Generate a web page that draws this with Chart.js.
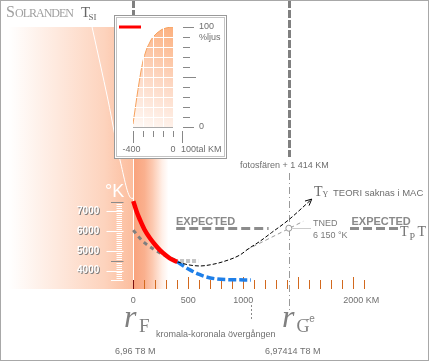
<!DOCTYPE html>
<html><head><meta charset="utf-8">
<script src="https://cdn.jsdelivr.net/npm/chart.js@4/dist/chart.umd.min.js"></script>
<style>
html,body{margin:0;padding:0;background:#fff;}
#wrap{position:relative;width:429px;height:361px;overflow:hidden;}
#main{position:absolute;left:0;top:0;}
#inset{position:absolute;left:114px;top:15px;}
</style></head><body>
<div id="wrap"><canvas id="main" width="429" height="361"></canvas><canvas id="inset" width="113" height="144"></canvas></div>
<script>
// ---- data (km above photosphere, temperature K) ----
const redKm   = [0, 30, 61, 100, 152, 200, 242, 290, 333, 370, 400];
const redK    = [7530, 7000, 6570, 6100, 5640, 5300, 5040, 4800, 4620, 4510, 4440];
const greyKm  = [0, 50, 100, 200, 300, 400];
const greyK   = [6050, 5700, 5420, 5030, 4730, 4490];
const dotKm   = [425, 590];
const dotK    = [4480, 4480];
const blackKm = [400, 500, 606, 700, 818, 970, 1045, 1150, 1258, 1409, 1622];
const blackK  = [4440, 4290, 4230, 4290, 4450, 4790, 5100, 5480, 5930, 6560, 7630];
const blueKm  = [400, 450, 515, 600, 652, 758, 900, 1070];
const blueK   = [4440, 4250, 4030, 3800, 3690, 3570, 3530, 3520];
const siKm    = [-375, -230, -121, -15, 0];
const siK     = [16380, 12670, 9620, 7670, 7670];
const guideKm = [1030, 1545];
const guideK  = [5050, 6500];
const tnedKm = 1414, tnedK = 6150;
const expLeftKm = [390, 1230];
const expRightKm = [1970, 2420];
const transitionKm = 1070;
const xTickVals = [0, 500, 1000, 2000];
const xTickLabels = ['0', '500', '1000', '2000 KM'];
const yTickVals = [7000, 6000, 5000, 4000];
const yTickLabels = ['7000', '6000', '5000', '4000'];
// inset: light fraction vs position (100-tal km)
const lightX   = [-400,-380,-360,-340,-320,-300,-280,-260,-240,-220,-200,-180,-160,-140,-120,-100,-80,-60,-40,-20,0];
const lightPct = [3,17,31,44,56,66,73,79,83,87,90,92,94,95.5,97,98,98.7,99.2,99.6,99.9,100];

// ---- layout (pixel mapping) ----
const X0 = 133.3, XS = 0.11;     // px of 0 km, px per km
const Y4 = 270.5, YS = 0.019667; // px of 4000 K, px per K
const W = 429, H = 361;

const pts = (xs, ys) => xs.map((x, i) => ({x, y: ys[i]}));
const SANS = '"Liberation Sans", Arial, sans-serif';
const SERIF = '"Liberation Serif", "Times New Roman", serif';

function txt(ctx, s, x, y, font, color, align, base) {
  ctx.save(); ctx.font = font; ctx.fillStyle = color;
  ctx.textAlign = align || 'left'; ctx.textBaseline = base || 'middle';
  ctx.fillText(s, x, y); ctx.restore();
}
function line(ctx, x1, y1, x2, y2, color, w, dash) {
  ctx.save(); ctx.strokeStyle = color; ctx.lineWidth = w || 1;
  ctx.setLineDash(dash || []); ctx.beginPath(); ctx.moveTo(x1, y1); ctx.lineTo(x2, y2); ctx.stroke(); ctx.restore();
}

const bgPlugin = {
  id: 'bg',
  beforeDatasetsDraw(chart) {
    const ctx = chart.ctx, xa = chart.scales.x, ya = chart.scales.y;
    const cx = Math.round(xa.getPixelForValue(0)) + 0.5;
    // gradient band
    const L = cx - 125, R = cx + 35;
    const g = ctx.createLinearGradient(L, 0, R, 0);
    g.addColorStop(0, '#ffffff');
    g.addColorStop(0.3, '#fee9de');
    g.addColorStop(0.6, '#fdd3bd');
    g.addColorStop(0.78, '#fcbd9d');
    g.addColorStop(0.785, '#f9a37d');
    g.addColorStop(0.85, '#fab08e');
    g.addColorStop(0.9, '#fcc9b0');
    g.addColorStop(0.96, '#ffefe7');
    g.addColorStop(1, '#ffffff');
    ctx.fillStyle = g; ctx.fillRect(L, 27, R - L, 262);
    // white axis line
    line(ctx, cx, 150, cx, 289, '#ffffff', 1);
    // y ticks
    for (let t = 3500; t <= 7500; t += 100) {
      const y = Math.round(ya.getPixelForValue(t)) + 0.5;
      if (t % 1000 === 0) line(ctx, 106.5, y, 123.5, y, '#ffffff', 1);
      else if (t === 7500 || t === 4500) line(ctx, 111, y, 123.5, y, '#8a8a8a', 1);
      else if (t === 3500) line(ctx, 111, y, 123.5, y, '#ffffff', 1);
      else line(ctx, 116.5, y, 122, y, '#ffffff', 1);
    }
    // y labels (embossed)
    yTickVals.forEach((v, i) => {
      const y = ya.getPixelForValue(v);
      txt(ctx, yTickLabels[i], 100.3, y + 1, 'bold 10px ' + SANS, '#7a7a7a', 'right');
      txt(ctx, yTickLabels[i], 99.3, y, 'bold 10px ' + SANS, '#ffffff', 'right');
    });
    txt(ctx, '°K', 105, 196.5, '18px ' + SANS, '#ffffff', 'left', 'alphabetic');
    // x ticks
    for (let k = 0; k <= 2100; k += 100) {
      const x = Math.round(xa.getPixelForValue(k)) + 0.5;
      const tall = (k % 500 === 0) && k > 0;
      line(ctx, x, tall ? 277 : 280, x, 289, k === 0 ? '#7a1010' : '#d2691e', 1);
    }
    xTickVals.forEach((v, i) => {
      const x = xa.getPixelForValue(v);
      const s = xTickLabels[i];
      if (s.indexOf(' ') > 0) {
        ctx.save(); ctx.font = '9px ' + SANS; const w = ctx.measureText(s.split(' ')[0]).width; ctx.restore();
        txt(ctx, s, x - w / 2, 300.5, '9px ' + SANS, '#707070', 'left');
      } else txt(ctx, s, x, 300.5, '9px ' + SANS, '#707070', 'center');
    });
    // thick dashed verticals
    const xt = Math.round(xa.getPixelForValue(tnedKm)) + 0.5;
    line(ctx, cx, 0, cx, 15, '#808080', 3, [8, 2]);
    line(ctx, xt, 0, xt, 157, '#808080', 3, [8, 2]);
    // dash-dot
    line(ctx, xt, 173, xt, 310, '#9a9a9a', 1, [7, 3, 1, 3]);
    // transition marker
    const xtr = Math.round(xa.getPixelForValue(transitionKm)) + 0.5;
    line(ctx, xtr, 305, xtr, 319, '#8a8a8a', 1, [2, 2]);
    // EXPECTED lines
    const ye = Math.round(ya.getPixelForValue(tnedK)) + 0.5;
    line(ctx, xa.getPixelForValue(expLeftKm[0]), ye, xa.getPixelForValue(expLeftKm[1]), ye, '#8c8c8c', 3, [9, 4]);
    line(ctx, xa.getPixelForValue(expRightKm[0]), ye, xa.getPixelForValue(expRightKm[1]), ye, '#8c8c8c', 3, [9, 4]);
    line(ctx, xt + 3, ye, 311, ye, '#cccccc', 1);
  },
  afterDatasetsDraw(chart) {
    const ctx = chart.ctx, xa = chart.scales.x, ya = chart.scales.y;
    // arrow head on black curve
    const n = blackKm.length;
    const x1 = xa.getPixelForValue(blackKm[n - 2]), y1 = ya.getPixelForValue(blackK[n - 2]);
    const x2 = xa.getPixelForValue(blackKm[n - 1]), y2 = ya.getPixelForValue(blackK[n - 1]);
    const a = Math.atan2(y2 - y1, x2 - x1);
    ctx.save(); ctx.strokeStyle = '#000'; ctx.lineWidth = 1; ctx.beginPath();
    ctx.moveTo(x2 - 7 * Math.cos(a - 0.45), y2 - 7 * Math.sin(a - 0.45)); ctx.lineTo(x2, y2);
    ctx.lineTo(x2 - 7 * Math.cos(a + 0.45), y2 - 7 * Math.sin(a + 0.45)); ctx.stroke(); ctx.restore();
    // TNED circle
    const xt = xa.getPixelForValue(tnedKm), yt = ya.getPixelForValue(tnedK);
    ctx.save(); ctx.beginPath(); ctx.arc(xt, yt, 3, 0, Math.PI * 2); ctx.fillStyle = '#fff'; ctx.fill();
    ctx.strokeStyle = '#999'; ctx.lineWidth = 1; ctx.stroke(); ctx.restore();
    // texts
    const grey = '#6e6e6e';
    txt(ctx, 'fotosfären + 1 414 KM', 240, 165.5, '9px ' + SANS, grey);
    txt(ctx, 'T', 314, 196, '14px ' + SERIF, '#6a6a6a', 'left', 'alphabetic');
    txt(ctx, 'Y', 322.5, 197, '8px ' + SERIF, '#6a6a6a', 'left', 'alphabetic');
    txt(ctx, 'TEORI saknas i MAC', 333, 193.5, '9.5px ' + SANS, grey);
    txt(ctx, 'EXPECTED', 176, 221.5, 'bold 11px ' + SANS, '#8a8a8a');
    txt(ctx, 'EXPECTED', 351.5, 221.5, 'bold 11px ' + SANS, '#8a8a8a');
    txt(ctx, 'TNED', 313, 224, '9px ' + SANS, '#7a7a7a');
    txt(ctx, '6 150 °K', 313, 235.5, '9px ' + SANS, '#7a7a7a');
    txt(ctx, 'T', 400, 236, '14px ' + SERIF, '#707070', 'left', 'alphabetic');
    txt(ctx, 'P', 409.5, 240, '10px ' + SERIF, '#707070', 'left', 'alphabetic');
    txt(ctx, 'T', 417.5, 236, '14px ' + SERIF, '#707070', 'left', 'alphabetic');
    txt(ctx, 'r', 124, 326.5, 'italic 32px ' + SERIF, '#808080', 'left', 'alphabetic');
    txt(ctx, 'F', 139, 331.5, '19px ' + SERIF, '#808080', 'left', 'alphabetic');
    txt(ctx, 'r', 282, 326.5, 'italic 32px ' + SERIF, '#808080', 'left', 'alphabetic');
    txt(ctx, 'G', 296.5, 331.5, '18px ' + SERIF, '#808080', 'left', 'alphabetic');
    txt(ctx, '-e', 306, 322, '10px ' + SANS, '#808080', 'left', 'alphabetic');
    txt(ctx, 'kromala-koronala övergången', 156, 335, '9px ' + SANS, '#707070');
    txt(ctx, '6,96 T8 M', 115, 352, '9px ' + SANS, '#707070');
    txt(ctx, '6,97414 T8 M', 265, 352, '9px ' + SANS, '#707070');
    // title
    txt(ctx, 'S', 6, 16.5, '16px ' + SERIF, '#a0a0a0', 'left', 'alphabetic');
    ctx.save(); ctx.letterSpacing = '-1px';
    txt(ctx, 'OLRANDEN', 15, 16.5, '12px ' + SERIF, '#a0a0a0', 'left', 'alphabetic');
    ctx.restore();
    txt(ctx, 'T', 81, 16.5, '15px ' + SERIF, '#666666', 'left', 'alphabetic');
    txt(ctx, 'SI', 88.5, 20, '9px ' + SERIF, '#666666', 'left', 'alphabetic');
    // border
    ctx.save(); ctx.strokeStyle = '#a8a8a8'; ctx.lineWidth = 1; ctx.strokeRect(0.5, 0.5, W - 1, H - 1); ctx.restore();
  }
};

const ds = (data, color, width, dash, extra) => Object.assign({
  data, borderColor: color, borderWidth: width, borderDash: dash || [], pointRadius: 0,
  fill: false, tension: 0.4, cubicInterpolationMode: 'monotone', borderCapStyle: 'butt'
}, extra || {});

new Chart(document.getElementById('main'), {
  type: 'line',
  data: { datasets: [
    ds(pts(redKm, redK), '#ff0000', 4.5),
    ds(pts(blackKm, blackK), '#000000', 1, [4, 2]),
    ds(pts(guideKm, guideK), '#9a9a9a', 1, [4, 3], {tension: 0}),
    ds(pts(greyKm, greyK), '#7f7f7f', 3, [4, 4]),
    ds(pts(dotKm, dotK), '#c4c4c4', 4, [4, 2], {tension: 0}),
    ds(pts(blueKm, blueK), '#1f7fe8', 3.5, [8, 3]),
    ds(pts(siKm, siK), '#ffffff', 1, [], {tension: 0})
  ]},
  options: {
    responsive: false, animation: false, events: [],
    layout: { padding: 0 },
    plugins: { legend: { display: false }, tooltip: { enabled: false } },
    scales: {
      x: { type: 'linear', display: false, min: -X0 / XS, max: (W - X0) / XS },
      y: { type: 'linear', display: false, min: 4000 - (H - Y4) / YS, max: 4000 + Y4 / YS }
    }
  },
  plugins: [bgPlugin]
});

// ---- inset ----
const insetPlugin = {
  id: 'insetDeco',
  beforeDraw(chart) {
    const ctx = chart.ctx;
    ctx.save(); ctx.fillStyle = '#fff'; ctx.fillRect(0, 0, 113, 144);
    ctx.strokeStyle = '#999'; ctx.lineWidth = 1; ctx.strokeRect(0.5, 0.5, 112, 143);
    ctx.strokeStyle = '#c4c4c4'; ctx.strokeRect(2.5, 2.5, 108, 139);
    ctx.restore();
  },
  afterDatasetsDraw(chart) {
    const ctx = chart.ctx, xa = chart.scales.x, ya = chart.scales.y;
    const L = xa.getPixelForValue(-400), R = xa.getPixelForValue(0);
    const T = ya.getPixelForValue(100), B = ya.getPixelForValue(0);
    for (let v = -300; v <= -100; v += 100) { const x = Math.round(xa.getPixelForValue(v)) + 0.5; line(ctx, x, T, x, B, '#ffffff', 1); }
    for (let p = 10; p <= 90; p += 10) { const y = Math.round(ya.getPixelForValue(p)) + 0.5; line(ctx, L, y, R, y, '#ffffff', 1); }
    line(ctx, L, Math.round(B) + 0.5, R, Math.round(B) + 0.5, '#aaaaaa', 1);
    // right ticks
    for (let p = 0; p <= 100; p += 10) {
      const y = Math.round(ya.getPixelForValue(p)) + 0.5;
      const major = p % 50 === 0;
      line(ctx, R + 10, y, R + (major ? (p === 50 ? 23 : 21) : 17), y, '#888888', 1);
    }
    // bottom ticks
    for (let v = -400; v <= 0; v += 100) {
      const x = Math.round(xa.getPixelForValue(v)) + 0.5;
      line(ctx, x, 116, x, v === -400 ? 128 : 122, '#888888', 1);
    }
    line(ctx, Math.round(R) + 9.5, 116, Math.round(R) + 9.5, 128, '#888888', 1);
    const f = '9px ' + SANS, c = '#6e6e6e';
    txt(ctx, '100', R + 26, ya.getPixelForValue(100), f, c);
    txt(ctx, '%ljus', R + 26, ya.getPixelForValue(89.3), f, c);
    txt(ctx, '0', R + 26, ya.getPixelForValue(0), f, c);
    txt(ctx, '-400', L - 1.5, 135, f, c, 'center');
    txt(ctx, '0', R, 135, f, c, 'center');
    txt(ctx, '100tal KM', R + 8, 135, f, c);
    // red legend mark
    line(ctx, 5, 12, 27, 12, '#ff0000', 3);
  }
};

new Chart(document.getElementById('inset'), {
  type: 'line',
  data: { datasets: [{
    data: pts(lightX, lightPct), borderColor: '#f7a25e', borderWidth: 1, pointRadius: 0,
    tension: 0.3, cubicInterpolationMode: 'monotone', fill: 'origin',
    backgroundColor: (context) => {
      const ca = context.chart.chartArea; if (!ca) return '#fcd0b0';
      const g = context.chart.ctx.createLinearGradient(ca.left, ca.bottom, ca.right, ca.top);
      g.addColorStop(0, '#fffaf7'); g.addColorStop(0.5, '#fdd7c2'); g.addColorStop(1, '#fcb07e');
      return g;
    }
  }]},
  options: {
    responsive: false, animation: false, events: [],
    layout: { padding: { left: 19, right: 54, top: 12, bottom: 32 } },
    plugins: { legend: { display: false }, tooltip: { enabled: false } },
    scales: {
      x: { type: 'linear', display: false, min: -400, max: 0 },
      y: { type: 'linear', display: false, min: 0, max: 100 }
    }
  },
  plugins: [insetPlugin]
});
</script>
</body></html>
